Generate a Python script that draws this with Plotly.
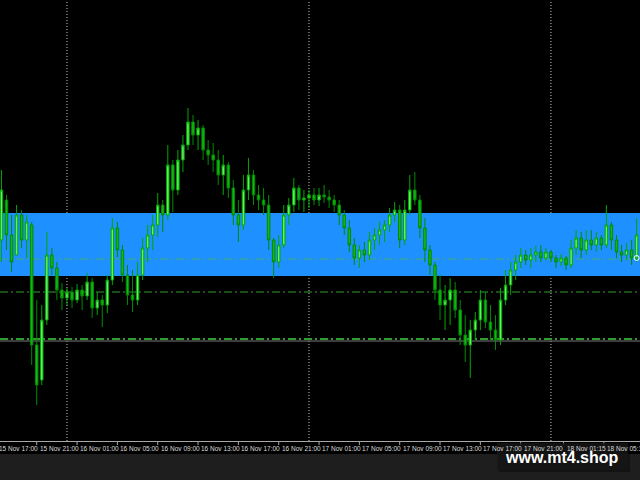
import pandas as pd
import plotly.graph_objects as go

# ---- data (prices in points) ----
START = "2023-11-15 17:30"
OPEN = [860,900,865,845,885,860,875,755,720,780,
        845,832,810,802,808,800,810,804,818,792,
        800,795,820,872,850,825,805,800,825,852,
        865,875,895,885,935,910,940,955,978,965,
        972,950,945,940,925,935,912,885,875,910,
        925,905,900,895,860,838,855,885,895,912,
        900,902,905,900,905,903,900,895,885,872,
        855,842,850,845,860,865,870,875,885,890,
        860,890,910,900,872,850,835,810,795,800,
        810,790,765,755,770,780,800,778,770,760,
        800,815,830,838,845,840,845,848,842,848,
        842,838,842,835,852,862,850,860,855,862,
        855,875,860,848,845,850,842]
HIGH = [930,905,885,895,890,885,878,800,795,868,
        852,838,817,812,813,816,815,827,822,808,
        805,825,882,878,855,835,830,838,862,875,
        885,907,900,955,940,950,965,992,985,980,
        975,960,957,950,945,938,920,900,925,942,
        930,915,912,905,862,865,895,902,922,915,
        910,910,912,912,915,910,905,900,890,880,
        862,855,858,868,872,878,880,892,898,895,
        900,925,928,905,882,855,838,825,815,822,
        818,800,785,780,788,810,808,795,785,812,
        830,838,845,852,850,852,854,855,852,850,
        845,846,844,860,870,868,870,870,868,865,
        895,878,865,855,857,860,882]
LOW = [838,850,828,845,852,842,735,695,715,775,
       825,800,790,795,792,797,790,800,782,785,
       773,787,815,843,818,795,788,795,820,838,
       850,863,868,880,888,905,928,950,955,950,
       940,935,928,915,905,902,875,858,870,900,
       895,890,885,850,822,832,852,875,888,890,
       888,892,895,894,897,892,888,875,865,848,
       835,832,838,840,850,855,858,868,878,852,
       855,885,895,862,838,825,800,780,770,775,
       782,755,738,722,760,770,772,760,750,755,
       795,805,820,832,835,832,838,838,840,838,
       832,834,830,832,845,842,845,850,848,850,
       852,850,842,838,840,835,838]
CLOSE = [910,865,838,885,860,878,755,715,780,845,
         832,810,802,808,800,810,804,818,792,800,
         795,820,872,850,825,805,800,825,852,865,
         875,895,885,935,910,940,955,978,965,972,
         950,945,940,925,935,912,885,875,910,925,
         905,900,895,860,838,855,885,895,912,900,
         902,905,900,905,903,900,895,885,872,855,
         842,850,845,860,865,870,875,885,890,860,
         890,910,900,872,850,835,810,795,800,810,
         790,765,755,770,780,800,778,770,760,800,
         815,830,838,845,840,845,848,842,848,842,
         838,842,835,852,862,850,860,855,862,855,
         875,860,848,845,850,842,865]

ZONE_TOP, ZONE_BOTTOM = 887, 824
LEVEL_MID = 841
LEVEL_1 = 808
LEVEL_2 = 761
LEVEL_2_GRAY = 759
PRICE_MARK = 842

TICK_TIMES = ["2023-11-15 17:00", "2023-11-15 21:00", "2023-11-16 01:00", "2023-11-16 05:00",
              "2023-11-16 09:00", "2023-11-16 13:00", "2023-11-16 17:00", "2023-11-16 21:00",
              "2023-11-17 01:00", "2023-11-17 05:00", "2023-11-17 09:00", "2023-11-17 13:00",
              "2023-11-17 17:00", "2023-11-17 21:00", "2023-11-18 01:15", "2023-11-18 05:15"]
TICK_LABELS = ["15 Nov 17:00", "15 Nov 21:00", "16 Nov 01:00", "16 Nov 05:00",
               "16 Nov 09:00", "16 Nov 13:00", "16 Nov 17:00", "16 Nov 21:00",
               "17 Nov 01:00", "17 Nov 05:00", "17 Nov 09:00", "17 Nov 13:00",
               "17 Nov 17:00", "17 Nov 21:00", "18 Nov 01:15", "18 Nov 05:15"]
DAY_SEPARATORS = ["2023-11-16 00:00", "2023-11-17 00:00", "2023-11-18 00:00"]
X_RANGE = ["2023-11-15 17:21:25", "2023-11-18 08:50:00"]
Y_RANGE = [659, 1100]

times = pd.date_range(START, periods=len(CLOSE), freq="30min")

fig = go.Figure()
fig.add_trace(go.Candlestick(
    x=times, open=OPEN, high=HIGH, low=LOW, close=CLOSE,
    increasing=dict(line=dict(color="#00A800", width=1), fillcolor="#66F066"),
    decreasing=dict(line=dict(color="#008C00", width=1), fillcolor="#14B814"),
    whiskerwidth=0, hoverinfo="skip", showlegend=False,
))
fig.add_trace(go.Scatter(
    x=[times[-1]], y=[PRICE_MARK], mode="markers",
    marker=dict(symbol="circle-open", size=5, color="white", line=dict(width=1)),
    showlegend=False, hoverinfo="skip",
))

shapes = []
for d in DAY_SEPARATORS:
    shapes.append(dict(type="line", xref="x", yref="paper", x0=d, x1=d, y0=0, y1=1,
                       line=dict(color="#C8C8C8", width=1, dash="1px,2px"), layer="below"))
shapes.append(dict(type="rect", xref="paper", yref="y", x0=0, x1=1, y0=ZONE_BOTTOM, y1=ZONE_TOP,
                   fillcolor="#1E90FF", line=dict(width=0), layer="below"))
dd = "8px,3px,2px,3px"
shapes.append(dict(type="line", xref="paper", yref="y", x0=0, x1=1, y0=LEVEL_MID, y1=LEVEL_MID,
                   line=dict(color="#3FAF6F", width=1, dash=dd), layer="below"))
shapes.append(dict(type="line", xref="paper", yref="y", x0=0, x1=1, y0=LEVEL_1, y1=LEVEL_1,
                   line=dict(color="#2E9E2E", width=1, dash=dd), layer="below"))
shapes.append(dict(type="line", xref="paper", yref="y", x0=0, x1=1, y0=LEVEL_2_GRAY, y1=LEVEL_2_GRAY,
                   line=dict(color="#7A7A7A", width=1), layer="below"))
shapes.append(dict(type="line", xref="paper", yref="y", x0=0, x1=1, y0=LEVEL_2, y1=LEVEL_2,
                   line=dict(color="#2E9E2E", width=2, dash=dd), layer="below"))

H = 441.0  # plot height in px
def py(pix):
    return (H - pix) / H

# bottom grey strip
shapes.append(dict(type="rect", xref="paper", yref="paper", x0=0, x1=1, y0=py(480), y1=py(454),
                   fillcolor="#1E1E1E", line=dict(width=0), layer="above"))

t0 = pd.Timestamp(X_RANGE[0]); t1 = pd.Timestamp(X_RANGE[1])
def fx(t):
    return (pd.Timestamp(t) - t0) / (t1 - t0)

annotations = []
for t, lab in zip(TICK_TIMES, TICK_LABELS):
    xf = fx(t)
    shapes.append(dict(type="line", xref="paper", yref="paper", x0=xf, x1=xf, y0=py(441), y1=py(445),
                       line=dict(color="#A8A8A8", width=1), layer="above"))
    annotations.append(dict(x=xf, y=py(448), xref="paper", yref="paper", text=lab, showarrow=False,
                            xanchor="left", yanchor="middle", xshift=1,
                            font=dict(family="Liberation Sans", size=6.5, color="#DADADA")))

# watermark box
shapes.append(dict(type="rect", xref="paper", yref="paper", x0=499/640, x1=630/640, y0=py(472), y1=py(445),
                   fillcolor="rgba(0,0,0,0.35)", line=dict(width=0), layer="above"))
shapes.append(dict(type="rect", xref="paper", yref="paper", x0=497/640, x1=628/640, y0=py(470), y1=py(443),
                   fillcolor="rgba(22,22,22,0.82)", line=dict(width=0), layer="above"))

fig.update_layout(
    width=640, height=480,
    margin=dict(l=0, r=0, t=0, b=39),
    paper_bgcolor="#000000", plot_bgcolor="#000000",
    shapes=shapes,
    showlegend=False,
    xaxis=dict(range=X_RANGE, type="date", showgrid=False, zeroline=False,
               showline=True, linecolor="#A8A8A8", linewidth=1,
               showticklabels=False, ticks="", rangeslider=dict(visible=False)),
    yaxis=dict(range=Y_RANGE, showgrid=False, zeroline=False, showticklabels=False, ticks=""),
)
annotations.append(dict(x=562/640, y=py(457), xref="paper", yref="paper", text="<b>www.mt4.shop</b>",
                        showarrow=False, xanchor="center", yanchor="middle",
                        font=dict(family="Liberation Sans", size=16, color="#FFFFFF")))
fig.update_layout(annotations=annotations)

fig.write_html("out.html", config={"displayModeBar": False},
               post_script="document.body.style.margin='0';document.body.style.background='#1E1E1E';")
